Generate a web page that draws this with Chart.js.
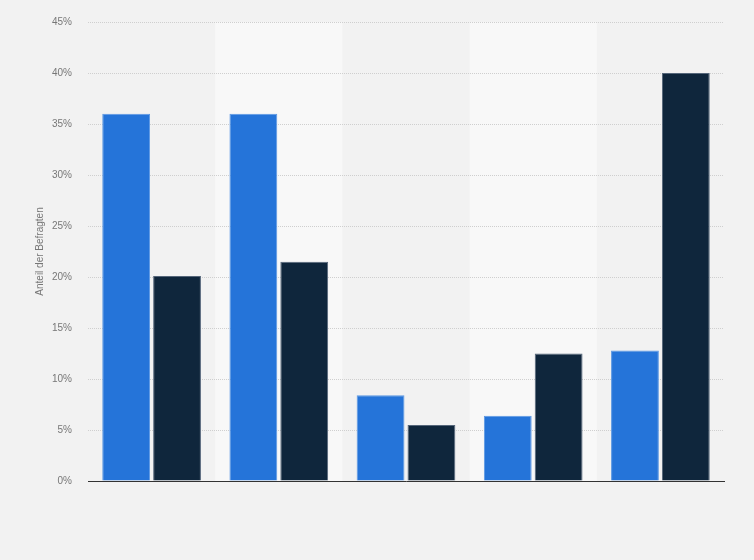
<!DOCTYPE html>
<html lang="de">
<head>
    <meta charset="UTF-8">
    <title>Anteil der Befragten</title>
    <script src="https://cdn.jsdelivr.net/npm/chart.js"></script>
    <style>
        html, body { margin: 0; padding: 0; background: #f2f2f2; }
        #wrap { width: 754px; height: 560px; }
    </style>
</head>
<body>
    <div id="wrap"><canvas id="chart"></canvas></div>

    <script>
        // categories have no visible labels in the picture
        const categories = ['', '', '', '', ''];
        const seriesA = [36.0, 36.0, 8.4, 6.4, 12.8];
        const seriesB = [20.1, 21.5, 5.5, 12.5, 40.0];
        const yTicks = [0, 5, 10, 15, 20, 25, 30, 35, 40, 45];

        // lighter bands behind every second category (drawn under the grid)
        const bandPlugin = {
            id: 'bands',
            beforeDraw(chart) {
                const { ctx, chartArea, scales } = chart;
                const x = scales.x;
                const w = (chartArea.right - chartArea.left) / categories.length;
                ctx.save();
                ctx.fillStyle = '#f8f8f8';
                categories.forEach((c, i) => {
                    if (i % 2 === 1) {
                        const cx = x.getPixelForValue(i);
                        ctx.fillRect(cx - w / 2, chartArea.top, w, chartArea.bottom - chartArea.top);
                    }
                });
                ctx.restore();
            }
        };

        const ctx = document.getElementById('chart').getContext('2d');
        new Chart(ctx, {
            type: 'bar',
            data: {
                labels: categories,
                datasets: [{
                    data: seriesA,
                    backgroundColor: '#2574d9',
                    borderColor: '#5b97e3',
                    borderWidth: { top: 1, left: 1, right: 1, bottom: 0 },
                    categoryPercentage: 0.8,
                    barPercentage: 0.94
                }, {
                    data: seriesB,
                    backgroundColor: '#0f263c',
                    borderColor: '#55667a',
                    borderWidth: { top: 1, left: 1, right: 1, bottom: 0 },
                    categoryPercentage: 0.8,
                    barPercentage: 0.94
                }]
            },
            options: {
                responsive: true,
                maintainAspectRatio: false,
                animation: false,
                layout: { padding: { top: 14, right: 30, bottom: 79, left: 34 } },
                plugins: {
                    legend: { display: false },
                    tooltip: { enabled: false }
                },
                scales: {
                    x: {
                        grid: { display: false, drawTicks: false },
                        border: { display: true, color: '#333', width: 1 },
                        ticks: { display: false }
                    },
                    y: {
                        min: 0,
                        max: 45,
                        afterBuildTicks(axis) {
                            axis.ticks = yTicks.map(v => ({ value: v }));
                        },
                        afterFit(axis) { axis.width = 54; },
                        grid: {
                            color: '#cfcfcf',
                            drawTicks: false
                        },
                        border: { display: false, dash: [1, 1] },
                        ticks: {
                            padding: 16,
                            color: '#777',
                            font: { family: 'Liberation Sans, Arial, sans-serif', size: 10 },
                            callback: v => v + '%'
                        },
                        title: {
                            display: true,
                            text: 'Anteil der Befragten',
                            color: '#777',
                            padding: { top: 0, bottom: 0 },
                            font: { family: 'Liberation Sans, Arial, sans-serif', size: 10 }
                        }
                    }
                }
            },
            plugins: [bandPlugin]
        });
    </script>
</body>
</html>
